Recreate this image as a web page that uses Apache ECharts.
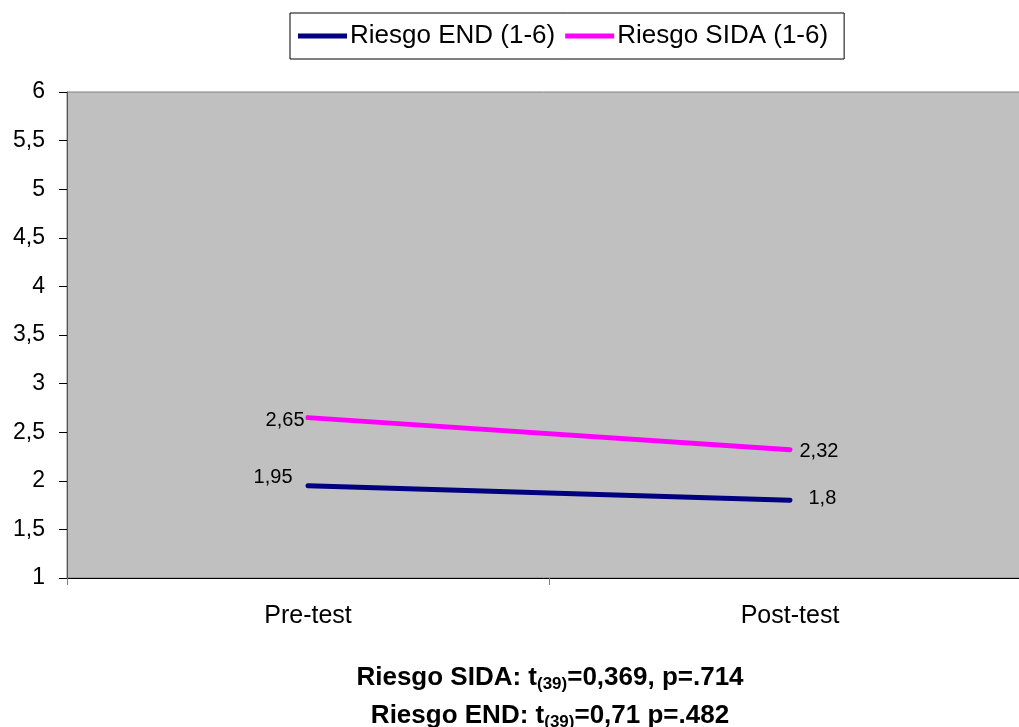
<!DOCTYPE html>
<html>
<head>
<meta charset="utf-8">
<script src="https://cdn.jsdelivr.net/npm/echarts@6/dist/echarts.min.js"></script>
<style>
  html, body { margin: 0; padding: 0; background: #fff; }
  #chart { width: 1019px; height: 727px; }
</style>
</head>
<body>
<div id="chart"></div>
<script>
// datos del gráfico
const categories = ['Pre-test', 'Post-test'];
const riesgoEnd = [1.95, 1.8];
const riesgoSida = [2.65, 2.32];
const seriesNames = ['Riesgo END (1-6)', 'Riesgo SIDA (1-6)'];

const fmt = v => String(v).replace('.', ',');
const font = 'Arial, "Liberation Sans", sans-serif';

// etiquetas: izquierda en el pre-test, derecha en el post-test
function withLabels(values, offsets) {
  return values.map((v, i) => ({
    value: v,
    label: {
      show: true,
      position: i === 0 ? 'left' : 'right',
      distance: 5,
      offset: offsets[i],
      formatter: p => fmt(p.value),
      color: '#000',
      fontSize: 20,
      fontFamily: font
    }
  }));
}

const richSub = {
  b: { fontSize: 26, fontWeight: 'bold', fontFamily: font, color: '#000' },
  s: { fontSize: 17, fontWeight: 'bold', fontFamily: font, color: '#000', padding: [14, 0, 0, 0] }
};

const chart = echarts.init(document.getElementById('chart'));

chart.setOption({
  animation: false,
  title: [
    {
      left: 550, top: 662, textAlign: 'center', padding: 0,
      text: '{b|Riesgo SIDA: t}{s|(39)}{b|=0,369, p=.714}',
      textStyle: { rich: richSub }
    },
    {
      left: 550, top: 700, textAlign: 'center', padding: 0,
      text: '{b|Riesgo END: t}{s|(39)}{b|=0,71 p=.482}',
      textStyle: { rich: richSub }
    }
  ],
  legend: {
    left: 290,
    top: 13,
    padding: [10, 16, 10, 8],
    itemGap: 10,
    itemWidth: 49,
    itemHeight: 5,
    icon: 'rect',
    borderColor: '#000',
    borderWidth: 1,
    backgroundColor: '#fff',
    textStyle: { fontSize: 26, fontFamily: font, color: '#000', padding: [0, 0, 0, -2] },
    data: seriesNames
  },
  grid: {
    left: 67,
    top: 92,
    width: 964,
    height: 486,
    outerBoundsMode: 'none',
    show: true,
    backgroundColor: '#C0C0C0',
    borderColor: '#808080',
    borderWidth: 1
  },
  xAxis: {
    type: 'category',
    data: categories,
    boundaryGap: true,
    axisLine: { lineStyle: { color: '#000', width: 1 } },
    axisTick: { show: true, interval: 0, length: 7, lineStyle: { color: '#808080' } },
    axisLabel: { fontSize: 25, fontFamily: font, color: '#000', margin: 26 },
    splitLine: { show: false }
  },
  yAxis: {
    type: 'value',
    min: 1,
    max: 6,
    interval: 0.5,
    axisLine: { show: true, lineStyle: { color: '#555', width: 1 } },
    axisTick: { show: true, length: 8, lineStyle: { color: '#000' } },
    axisLabel: { fontSize: 23, fontFamily: font, color: '#000', margin: 22, formatter: v => fmt(v) },
    splitLine: { show: false }
  },
  series: [
    {
      name: seriesNames[0],
      type: 'line',
      data: withLabels(riesgoEnd, [[-10, -8], [13, -2]]),
      symbol: 'circle',
      symbolSize: 1,
      itemStyle: { color: '#000080' },
      lineStyle: { color: '#000080', width: 5, cap: 'round' }
    },
    {
      name: seriesNames[1],
      type: 'line',
      data: withLabels(riesgoSida, [[2, 3], [4, 2]]),
      symbol: 'circle',
      symbolSize: 1,
      itemStyle: { color: '#FF00FF' },
      lineStyle: { color: '#FF00FF', width: 5, cap: 'round' }
    }
  ]
});
</script>
</body>
</html>
